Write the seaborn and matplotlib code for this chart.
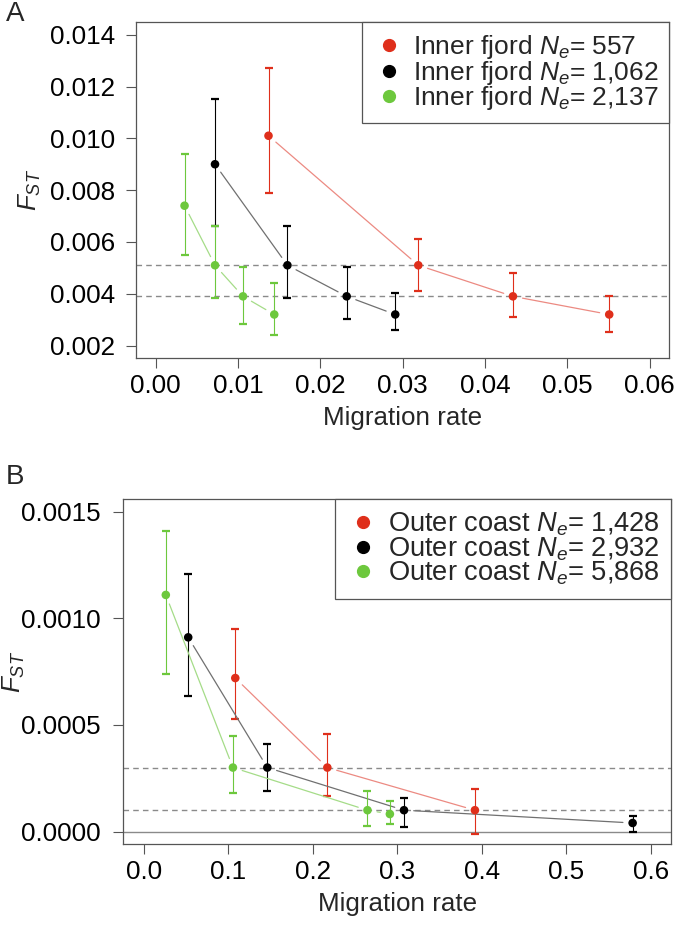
import numpy as np
import pandas as pd
import matplotlib
matplotlib.use('Agg')
import matplotlib.pyplot as plt
from matplotlib.lines import Line2D
import seaborn as sns

# panel A: inner fjord, one series per Ne
inner_ne = ['557', '1,062', '2,137']
inner_mig_557 = [0.0137, 0.0319, 0.0434, 0.0551]
inner_fst_557 = [0.0101, 0.0051, 0.0039, 0.0032]
inner_lo_557 = [0.00789, 0.00409, 0.00309, 0.00252]
inner_hi_557 = [0.01271, 0.00610, 0.00482, 0.00392]

inner_mig_1062 = [0.0072, 0.0160, 0.0232, 0.0291]
inner_fst_1062 = [0.0090, 0.0051, 0.0039, 0.0032]
inner_lo_1062 = [0.00662, 0.00382, 0.00303, 0.00262]
inner_hi_1062 = [0.01152, 0.00662, 0.00503, 0.00403]

inner_mig_2137 = [0.0035, 0.0072, 0.0106, 0.0144]
inner_fst_2137 = [0.0074, 0.0051, 0.0039, 0.0032]
inner_lo_2137 = [0.00549, 0.00382, 0.00284, 0.00242]
inner_hi_2137 = [0.00940, 0.00662, 0.00503, 0.00441]

inner_ref = [0.0051, 0.0039]

# panel B: outer coast
outer_ne = ['1,428', '2,932', '5,868']
outer_mig_1428 = [0.1085, 0.2174, 0.3920]
outer_fst_1428 = [0.00072, 0.0003, 0.0001]
outer_lo_1428 = [0.000528, 0.000167, -0.000012]
outer_hi_1428 = [0.000949, 0.000459, 0.000200]

outer_mig_2932 = [0.0528, 0.1464, 0.3081, 0.5786]
outer_fst_2932 = [0.000911, 0.0003, 0.0001, 0.00004]
outer_lo_2932 = [0.000637, 0.000191, 0.000019, -0.000002]
outer_hi_2932 = [0.001208, 0.000411, 0.000159, 0.000073]

outer_mig_5868 = [0.0263, 0.1057, 0.2649, 0.2914]
outer_fst_5868 = [0.00111, 0.0003, 0.0001, 0.000082]
outer_lo_5868 = [0.000738, 0.000180, 0.000028, 0.000036]
outer_hi_5868 = [0.001410, 0.000449, 0.000191, 0.000141]

outer_ref = [0.0003, 0.0001]

colors = ['#DF2F1B', '#000000', '#6DC83D']
line_colors = ['#EC8A82', '#707070', '#A5DC88']


def make_df(ne, mig, fst, lo, hi):
    parts = []
    for n, m, f, l, h in zip(ne, mig, fst, lo, hi):
        parts.append(pd.DataFrame({'ne': n, 'mig': m, 'fst': f, 'lo': l, 'hi': h}))
    return pd.concat(parts, ignore_index=True)


df_a = make_df(inner_ne,
               [inner_mig_557, inner_mig_1062, inner_mig_2137],
               [inner_fst_557, inner_fst_1062, inner_fst_2137],
               [inner_lo_557, inner_lo_1062, inner_lo_2137],
               [inner_hi_557, inner_hi_1062, inner_hi_2137])
df_b = make_df(outer_ne,
               [outer_mig_1428, outer_mig_2932, outer_mig_5868],
               [outer_fst_1428, outer_fst_2932, outer_fst_5868],
               [outer_lo_1428, outer_lo_2932, outer_lo_5868],
               [outer_hi_1428, outer_hi_2932, outer_hi_5868])

sns.set_style('white')
plt.rcParams['font.family'] = ['Liberation Sans', 'DejaVu Sans']
plt.rcParams['mathtext.fontset'] = 'custom'
plt.rcParams['mathtext.rm'] = 'Liberation Sans'
plt.rcParams['mathtext.it'] = 'Liberation Sans:italic'

FS = 18.7
EDGE = '#555555'

fig = plt.figure(figsize=(6.77, 9.31), dpi=100)
ax_a = fig.add_axes([136 / 677, 1 - 358 / 931, 533.3 / 677, 335.7 / 931])
ax_b = fig.add_axes([123.3 / 677, 1 - 844.3 / 931, 547.7 / 677, 345.3 / 931])


def draw_panel(ax, df, ne, ref, prefix, xmax, ymin, ymax, xfmt, yfmt, xstep, ystep, ypad, legfs):
    for r in ref:
        ax.axhline(r, color='#8a8a8a', lw=1.0, ls=(0, (4, 3)), zorder=1)
    for g, c, lc in zip(ne, colors, line_colors):
        sub = df[df['ne'] == g]
        ax.errorbar(sub['mig'], sub['fst'],
                    yerr=[sub['fst'] - sub['lo'], sub['hi'] - sub['fst']],
                    fmt='none', ecolor=c, elinewidth=0.8, capsize=2.6, capthick=1.6, zorder=2)
        xs = sub['mig'].to_numpy()
        ys = sub['fst'].to_numpy()
        # lines with gaps round the points, like R's type="b"
        for i in range(len(xs) - 1):
            ax.annotate('', xy=(xs[i + 1], ys[i + 1]), xytext=(xs[i], ys[i]),
                        arrowprops=dict(arrowstyle='-', color=lc, lw=0.9,
                                        shrinkA=7, shrinkB=7), zorder=2)
    sns.scatterplot(data=df, x='mig', y='fst', hue='ne', hue_order=ne, palette=colors,
                    s=38, edgecolor='none', legend=False, ax=ax, zorder=3)

    ax.set_xlim(-0.04 * xmax, 1.04 * xmax)
    yr = ymax - ymin
    ax.set_ylim(ymin - 0.04 * yr, ymax + 0.04 * yr)
    ax.set_xticks(np.arange(0, xmax + xstep / 2, xstep))
    ax.set_yticks(np.arange(ymin, ymax + ystep / 2, ystep))
    ax.xaxis.set_major_formatter(plt.FormatStrFormatter(xfmt))
    ax.yaxis.set_major_formatter(plt.FormatStrFormatter(yfmt))
    ax.tick_params(axis='both', direction='out', length=7.2, width=0.8, color=EDGE,
                   labelsize=FS, labelcolor='black', left=True, bottom=True)
    ax.tick_params(axis='x', pad=4)
    ax.tick_params(axis='y', pad=ypad)
    for sp in ax.spines.values():
        sp.set_visible(True)
        sp.set_color(EDGE)
        sp.set_linewidth(0.9)
    ax.set_xlabel('Migration rate', fontsize=FS, labelpad=6)
    ax.set_ylabel(r'$F_{ST}$', fontsize=FS)

    handles = [Line2D([], [], marker='o', ls='', color=c, markersize=8.5) for c in colors]
    labels = [prefix + r' $N_e$= ' + g for g in ne]
    leg = ax.legend(handles, labels, loc='upper right', borderaxespad=0, fontsize=legfs,
                    frameon=True, fancybox=False, framealpha=1, edgecolor=EDGE,
                    labelspacing=-0.1, handletextpad=0.3, handlelength=1.2,
                    borderpad=0.42)
    leg.get_frame().set_linewidth(0.9)


draw_panel(ax_a, df_a, inner_ne, inner_ref, 'Inner fjord', 0.06, 0.002, 0.014,
           '%.2f', '%.3f', 0.01, 0.002, 8, 19.0)
draw_panel(ax_b, df_b, outer_ne, outer_ref, 'Outer coast', 0.6, 0.0, 0.0015,
           '%.1f', '%.4f', 0.1, 0.0005, 9.4, 19.6)
ax_b.axhline(0, color='#8a8a8a', lw=1.0, zorder=1)

ax_a.yaxis.set_label_coords(-0.174, 0.5)
ax_b.yaxis.set_label_coords(-0.176, 0.5)

fig.text(6 / 677, 1 - 1 / 931, 'A', fontsize=20, ha='left', va='top')
fig.text(6 / 677, 1 - 464 / 931, 'B', fontsize=20, ha='left', va='top')

fig.savefig('out.png', dpi=100)
